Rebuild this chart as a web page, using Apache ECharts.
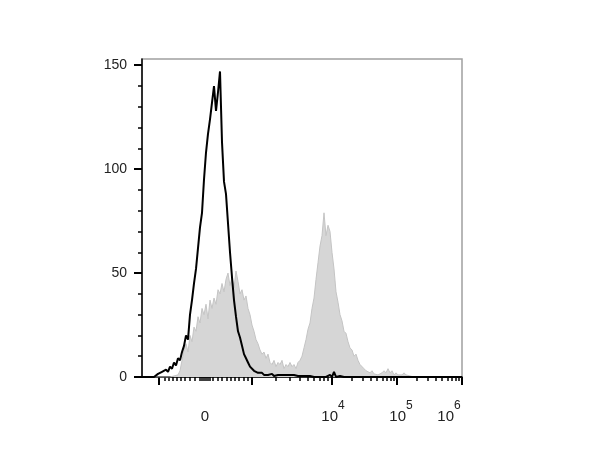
<!DOCTYPE html>
<html>
<head>
<meta charset="utf-8">
<script src="https://cdn.jsdelivr.net/npm/echarts@6/dist/echarts.min.js"></script>
<style>
html,body{margin:0;padding:0;background:#fff;}
#chart{width:600px;height:462px;}
</style>
</head>
<body>
<div id="chart"></div>
<script>
// Histogram bins: display channels 0..320, one bin every 2 channels
const firstChannel = 0;
const binWidth = 2;

// Control (black outline) counts per bin
const controlCounts = [
  0,0,0,0,0,0,0,0,1.5,1,
  2.5,2,3.5,2.5,5,4,7,5.5,9,8,
  12,15,20,18,30,37,45,52,62,72,
  79,95,108,117,124,132,140,128,137,147,
  113,94,88,74,60,48,37,29,22,19,
  15,11,9,7,5,5,3,2.5,2,1.5,
  2,1,1.5,1,1,1.5,0.5,1,1,0.5,
  1,0.5,1,0.5,1,0.5,1,0.5,0.5,1,
  0.5,1,0.5,0,0.5,0.5,0,0.5,0,0.5,
  0,0.5,0,0.5,1,0,2.5,0,0,0.5,
  0,0,0,0,0,0,0,0,0.5,0,
  0,0,0,0,0,0,0,0,0,0,
  0,0,0,0,0,0,0,0,0,0,
  0,0,0,0,0,0,0,0,0,0,
  0,0,0,0,0,0,0,0,0,0,
  0,0,0,0,0,0,0,0,0,0,
  0
];

// Stained sample (grey filled) counts per bin
const stainedCounts = [
  0,0,0,0,0,0,0,0,0,0,
  0,0,0,0,0,0,0.5,0.5,1,3,
  8,13,16,12,20,17,24,22,29,26,
  33,30,35,28,37,33,38,35,42,40,
  45,41,47,50,44,48,43,51,46,40,
  42,37,39,33,30,25,22,18,16,13,
  11,12,9,11,7,6,8,5,7,6,
  8,4,6,5,7,5,6,4,7,8,
  10,14,18,23,26,33,38,47,55,63,
  68,79,68,73,70,60,52,41,36,30,
  27,22,21,17,14,13,10,11,8,6,
  5,4,3,2.5,2,3,1.5,2,1,1.5,
  2,3,2,4,2,3,1,2,1,1.5,
  1,2,1,0.5,0.5,0,0,0,0,0,
  0,0,0,0,0,0,0,0,0,0,
  0,0,0,0,0,0,0,0,0,0,
  0
];

// Axis ticks and labels (x in display channels)
const xMajorTicks = [17, 110, 190, 255, 320];
const xMinorTicks = [23,27,31,35,39,43,48,53,58,60,62,64,66,68,71,76,80,85,89,93,97,102,106,
  134,148,158,166,172,178,182,186,
  210,221,229,235,241,245,249,252,
  275,286,294,300,306,310,314,317];
const xLabelPositions = [63, 191, 259, 307];
const xLabelTexts = ['0', '10^4', '10^5', '10^6'];
const yMajorTicks = [0, 50, 100, 150];
const yMinorTicks = [10,20,30,40,60,70,80,90,110,120,130,140];

const toPairs = arr => arr.map((v, i) => [firstChannel + i * binWidth, v]);

const FONT = '"Liberation Sans", Arial, sans-serif';
const chart = echarts.init(document.getElementById('chart'), null, {renderer: 'canvas'});

function fmtX(val) {
  const idx = xLabelPositions.indexOf(val);
  if (idx < 0) return '';
  const t = xLabelTexts[idx];
  if (t.indexOf('^') >= 0) {
    const p = t.split('^');
    return '{b|' + p[0] + '}{s|' + p[1] + '}';
  }
  return '{b|' + t + '}';
}

chart.setOption({
  animation: false,
  backgroundColor: '#fff',
  grid: {
    left: 142, right: 138, top: 59, bottom: 85,
    show: true, borderColor: '#a0a0a0', borderWidth: 1.5, backgroundColor: 'transparent'
  },
  xAxis: [{
    type: 'value', min: 0, max: 320,
    axisLine: {show: true, onZero: false, lineStyle: {color: '#000', width: 1.5}},
    axisTick: {show: true, customValues: xMajorTicks, length: 8, lineStyle: {color: '#000', width: 2}},
    axisLabel: {
      show: true, customValues: xLabelPositions, margin: 23, formatter: fmtX,
      rich: {
        b: {fontSize: 15, fontFamily: FONT, color: '#222', lineHeight: 24, verticalAlign: 'bottom'},
        s: {fontSize: 12, fontFamily: FONT, color: '#222', lineHeight: 24, verticalAlign: 'top'}
      }
    },
    splitLine: {show: false}
  }, {
    type: 'value', min: 0, max: 320, position: 'bottom',
    axisLine: {show: false},
    axisTick: {show: true, customValues: xMinorTicks, length: 4, lineStyle: {color: '#000', width: 1.5}},
    axisLabel: {show: false},
    splitLine: {show: false}
  }],
  yAxis: [{
    type: 'value', min: 0, max: 153,
    axisLine: {show: true, onZero: false, lineStyle: {color: '#000', width: 1.5}},
    axisTick: {show: true, customValues: yMajorTicks, length: 8, lineStyle: {color: '#000', width: 2}},
    axisLabel: {show: true, customValues: yMajorTicks, margin: 15, fontSize: 14, fontFamily: FONT, color: '#222'},
    splitLine: {show: false}
  }, {
    type: 'value', min: 0, max: 153, position: 'left',
    axisLine: {show: false},
    axisTick: {show: true, customValues: yMinorTicks, length: 4, lineStyle: {color: '#000', width: 1.5}},
    axisLabel: {show: false},
    splitLine: {show: false}
  }],
  series: [{
    name: 'Stained', type: 'line', xAxisIndex: 0, yAxisIndex: 0,
    data: toPairs(stainedCounts), symbol: 'none', smooth: false,
    lineStyle: {color: '#c4c4c4', width: 1},
    areaStyle: {color: '#d6d6d6', opacity: 1},
    z: 2
  }, {
    name: 'Control', type: 'line', xAxisIndex: 0, yAxisIndex: 0,
    data: toPairs(controlCounts), symbol: 'none', smooth: false,
    lineStyle: {color: '#000', width: 2},
    z: 3
  }]
});
</script>
</body>
</html>
